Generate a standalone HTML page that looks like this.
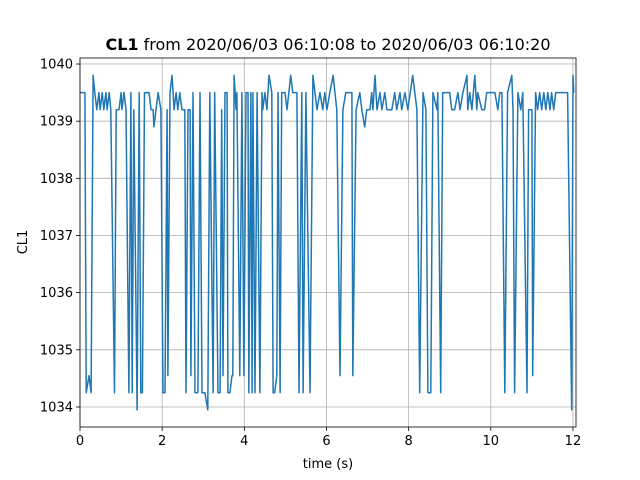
<!DOCTYPE html>
<html><head><meta charset="utf-8"><style>
body{margin:0;background:#fff;}
svg{display:block;font-family:"DejaVu Sans","Liberation Sans",sans-serif;}
</style></head><body>
<svg id="chart" width="640" height="480" viewBox="0 0 640 480">
<rect width="640" height="480" fill="#fff"/>
<g id="grid"></g>
<g id="series"></g>
<rect x="80" y="58" width="496" height="369" fill="none" stroke="#000" stroke-width="0.8"/>
<g id="ticks"></g>
<text x="328" y="50" text-anchor="middle" font-size="16"><tspan font-weight="bold">CL1</tspan> from 2020/06/03 06:10:08 to 2020/06/03 06:10:20</text>
<text x="328" y="468" text-anchor="middle" font-size="13">time (s)</text>
<text x="27" y="242" text-anchor="middle" font-size="13" transform="rotate(-90 27 242)">CL1</text>
</svg>
<script>
const xTicks=[0,2,4,6,8,10,12];
const yTicks=[1034,1035,1036,1037,1038,1039,1040];
const times=[
0,0.12,0.15,0.22,0.27,0.32,0.36,0.41,0.46,0.49,
0.54,0.58,0.63,0.66,0.71,0.75,0.84,0.88,0.95,1.0,
1.02,1.07,1.12,1.19,1.24,1.27,1.31,1.39,1.44,1.48,
1.52,1.57,1.68,1.73,1.78,1.80,1.85,1.90,1.97,2.02,
2.07,2.12,2.14,2.19,2.24,2.29,2.34,2.38,2.43,2.48,
2.55,2.58,2.63,2.68,2.70,2.75,2.80,2.87,2.92,2.97,
3.04,3.11,3.16,3.24,3.28,3.36,3.41,3.45,3.48,3.53,
3.58,3.60,3.65,3.70,3.72,3.75,3.80,3.82,3.89,3.94,
3.99,4.04,4.09,4.11,4.16,4.19,4.21,4.26,4.31,4.38,
4.43,4.45,4.50,4.55,4.60,4.67,4.70,4.74,4.79,4.82,
4.87,4.91,4.99,5.04,5.13,5.18,5.28,5.33,5.40,5.43,
5.50,5.60,5.67,5.77,5.84,5.91,5.96,6.01,6.08,6.16,
6.25,6.33,6.40,6.47,6.62,6.64,6.72,6.81,6.86,6.93,
6.98,7.06,7.10,7.13,7.18,7.23,7.30,7.35,7.42,7.47,
7.59,7.66,7.71,7.79,7.83,7.91,7.98,8.10,8.20,8.27,
8.35,8.42,8.47,8.54,8.59,8.69,8.71,8.78,8.83,9.00,
9.05,9.12,9.20,9.25,9.32,9.42,9.44,9.49,9.54,9.61,
9.66,9.68,9.78,9.85,9.90,10.10,10.17,10.22,10.27,10.34,
10.41,10.51,10.54,10.58,10.66,10.73,10.78,10.88,10.92,11.00,
11.02,11.09,11.14,11.19,11.24,11.29,11.34,11.39,11.44,11.48,
11.53,11.58,11.87,11.97,12.00,12.02];
const values=[
1039.5,1039.5,1034.25,1034.55,1034.25,1039.8,1039.5,1039.2,1039.5,1039.2,
1039.5,1039.2,1039.5,1039.2,1039.5,1039.2,1034.25,1039.2,1039.2,1039.5,
1039.2,1039.5,1039.2,1034.25,1039.5,1034.25,1039.2,1033.95,1039.5,1034.25,
1034.25,1039.5,1039.5,1039.2,1039.2,1038.9,1039.2,1039.5,1039.2,1034.25,
1034.25,1039.2,1034.55,1039.5,1039.8,1039.2,1039.5,1039.2,1039.5,1039.2,
1039.2,1034.25,1039.2,1039.2,1034.55,1039.5,1034.25,1034.25,1039.5,1034.25,
1034.25,1033.95,1039.5,1034.25,1039.5,1034.25,1034.25,1039.2,1034.55,1039.5,
1039.5,1034.25,1034.25,1034.55,1034.55,1039.8,1039.2,1039.5,1034.55,1039.5,
1034.55,1039.5,1039.5,1034.25,1039.5,1034.25,1039.5,1034.25,1039.5,1034.25,
1039.5,1039.2,1039.5,1039.2,1039.8,1039.5,1034.25,1034.25,1034.55,1039.5,
1034.25,1039.5,1039.5,1039.2,1039.8,1039.5,1039.5,1034.25,1039.5,1034.25,
1039.5,1034.25,1039.8,1039.2,1039.5,1039.2,1039.5,1039.2,1039.5,1039.8,
1039.2,1034.55,1039.2,1039.5,1039.5,1034.55,1039.2,1039.5,1039.2,1038.9,
1039.2,1039.2,1039.5,1039.2,1039.8,1039.2,1039.5,1039.2,1039.5,1039.2,
1039.2,1039.5,1039.2,1039.5,1039.2,1039.5,1039.2,1039.8,1039.2,1034.25,
1039.5,1039.2,1034.25,1034.25,1039.5,1039.2,1039.5,1034.25,1039.5,1039.5,
1039.2,1039.2,1039.5,1039.2,1039.5,1039.8,1039.2,1039.5,1039.2,1039.8,
1039.2,1039.5,1039.2,1039.2,1039.5,1039.5,1039.2,1039.5,1039.5,1034.25,
1039.5,1039.8,1039.2,1034.25,1039.5,1039.2,1039.5,1034.25,1039.2,1039.2,
1034.55,1039.5,1039.2,1039.5,1039.2,1039.5,1039.2,1039.5,1039.2,1039.5,
1039.2,1039.5,1039.5,1033.95,1039.8,1039.5];
const X0=80,X1=576,Y0=58,Y1=427;
const xMin=0,xMax=12.074,yMin=1033.65,yMax=1040.105;
const sx=v=>X0+(v-xMin)/(xMax-xMin)*(X1-X0);
const sy=v=>Y1-(v-yMin)/(yMax-yMin)*(Y1-Y0);
const NS='http://www.w3.org/2000/svg';
const grid=document.getElementById('grid'),ticks=document.getElementById('ticks'),series=document.getElementById('series');
function mk(t,a,p){const e=document.createElementNS(NS,t);for(const k in a)e.setAttribute(k,a[k]);p.appendChild(e);return e;}
xTicks.forEach(t=>{const x=sx(t);
const g=mk('line',{x1:x,x2:x,y1:Y0,y2:Y1,stroke:'#b0b0b0','stroke-width':0.8},grid);


const tk=mk('line',{x1:x,x2:x,y1:Y1,y2:Y1+4,stroke:'#000','stroke-width':0.8},ticks);


const l=mk('text',{x:x,y:Y1+18,'text-anchor':'middle','font-size':13},ticks);l.textContent=t;

});
yTicks.forEach(t=>{const y=sy(t);
const g=mk('line',{x1:X0,x2:X1,y1:y,y2:y,stroke:'#b0b0b0','stroke-width':0.8},grid);


const tk=mk('line',{x1:X0-4,x2:X0,y1:y,y2:y,stroke:'#000','stroke-width':0.8},ticks);


const l=mk('text',{x:X0-7,y:y+4.5,'text-anchor':'end','font-size':13},ticks);l.textContent=t;

});
const n=Math.min(times.length,values.length);
const pts=[];for(let i=0;i<n;i++)pts.push(sx(times[i]).toFixed(1)+','+sy(values[i]).toFixed(1));
const pl=mk('polyline',{points:pts.join(' '),fill:'none',stroke:'#1f77b4','stroke-width':1.5,'stroke-linejoin':'round'},series);


</script>
</body></html>
